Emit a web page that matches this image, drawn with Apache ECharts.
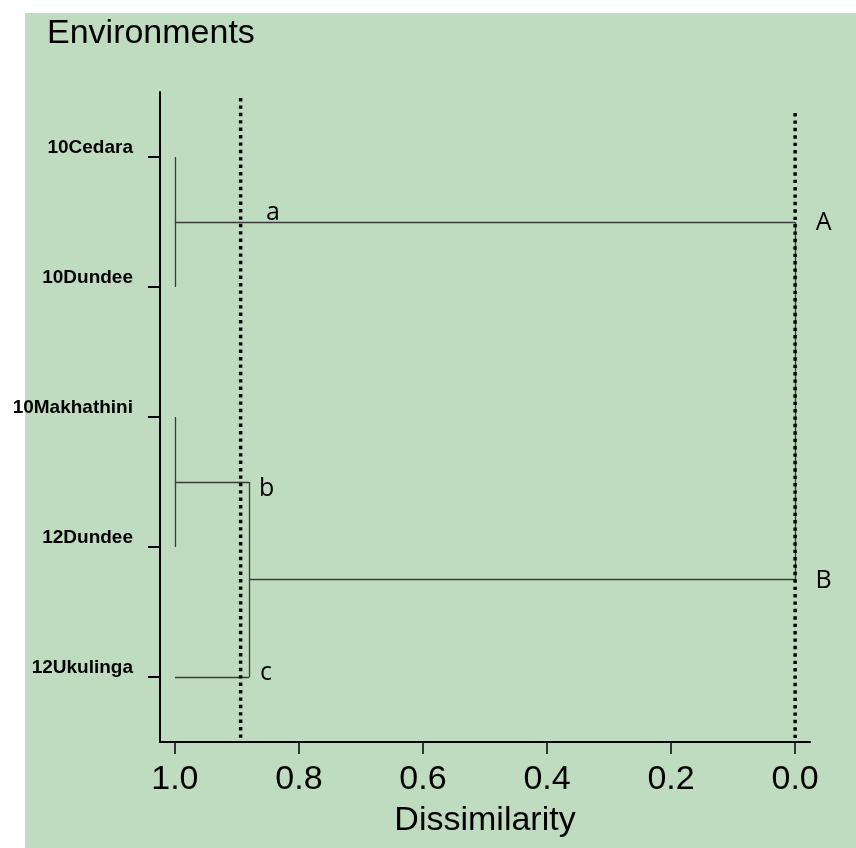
<!DOCTYPE html>
<html>
<head>
<meta charset="utf-8">
<script src="https://cdn.jsdelivr.net/npm/echarts@6.0.0/dist/echarts.min.js"></script>
<style>html,body{margin:0;padding:0;background:#fff;}#c{width:856px;height:848px;}</style>
</head>
<body>
<div id="c"></div>
<script>
// ---- data ----
const leaves = ['10Cedara', '10Dundee', '10Makhathini', '12Dundee', '12Ukulinga'];
const leafHeight = 1.0;
// merges (scipy-like ids: leaves 0..4, merge k gets id 5+k)
const mergeLeft = [0, 2, 6, 5];
const mergeRight = [1, 3, 4, 7];
const mergeHeight = [1.0, 1.0, 0.88, 0.0];
const xTicks = [1.0, 0.8, 0.6, 0.4, 0.2, 0.0];
const cutLevels = [0.894, 0.0];
const cutTop = [-0.454, -0.338];
const groupLabels = ['a', 'b', 'c', 'A', 'B'];
const groupLabelX = [0.842, 0.852, 0.853, -0.046, -0.046];
const groupLabelY = [0.43, 2.55, 3.97, 0.51, 3.26];

// ---- build dendrogram segments ----
const pos = leaves.map((_, i) => i);
const hgt = leaves.map(() => leafHeight);
const segments = [];
mergeHeight.forEach((h, k) => {
  const a = mergeLeft[k], b = mergeRight[k];
  segments.push([[hgt[a], pos[a]], [h, pos[a]]]);
  segments.push([[hgt[b], pos[b]], [h, pos[b]]]);
  segments.push([[h, pos[a]], [h, pos[b]]]);
  pos.push((pos[a] + pos[b]) / 2);
  hgt.push(h);
});

const chart = echarts.init(document.getElementById('c'), null, {renderer: 'canvas'});
const FONT = 'Liberation Sans, Arial, sans-serif';

const cutSeries = cutLevels.map((v, i) => ({
  type: 'line',
  data: [[v, cutTop[i]], [v, 4.5]],
  symbol: 'none',
  silent: true,
  clip: false,
  z: 5,
  lineStyle: {color: '#000', width: 3.5, type: [3.4, 4]}
}));

chart.setOption({
  animation: false,
  backgroundColor: '#fff',
  graphic: [{
    type: 'rect', z: -100, silent: true,
    shape: {x: 25, y: 13, width: 831, height: 835},
    style: {fill: '#c0dcc0'}
  }],
  title: {
    text: 'Environments', left: 47, top: 17, padding: 0,
    textStyle: {fontFamily: FONT, fontSize: 34, fontWeight: 'normal', color: '#000'}
  },
  grid: {left: 160, right: 46, top: 92, bottom: 106, containLabel: false},
  xAxis: {
    type: 'value', inverse: true, min: -0.024, max: 1.024,
    name: 'Dissimilarity', nameLocation: 'middle', nameGap: 62,
    nameTextStyle: {fontFamily: FONT, fontSize: 34, color: '#000'},
    splitLine: {show: false},
    axisLine: {show: true, onZero: false, lineStyle: {color: '#000', width: 2}},
    axisTick: {show: true, length: 12, customValues: xTicks, lineStyle: {color: '#000', width: 1.5}},
    axisLabel: {customValues: xTicks, margin: 21, fontFamily: FONT, fontSize: 34, color: '#000',
      formatter: v => Number(v).toFixed(1)}
  },
  yAxis: {
    type: 'value', inverse: true, min: -0.5, max: 4.5,
    splitLine: {show: false},
    axisLine: {show: true, onZero: false, lineStyle: {color: '#000', width: 2}},
    axisTick: {show: true, length: 12, customValues: leaves.map((_, i) => i), lineStyle: {color: '#000', width: 2}},
    axisLabel: {customValues: leaves.map((_, i) => i), margin: 27, fontFamily: FONT, fontSize: 19,
      fontWeight: 'bold', color: '#000', verticalAlign: 'bottom', lineHeight: 19,
      formatter: v => leaves[Math.round(v)]}
  },
  series: [
    {
      type: 'lines', coordinateSystem: 'cartesian2d', silent: true, z: 3,
      polyline: false, clip: false,
      lineStyle: {color: '#3a3a3a', width: 1.3, opacity: 1, curveness: 0},
      data: segments.map(c => ({coords: c}))
    },
    ...cutSeries,
    {
      type: 'scatter', symbolSize: 0, silent: true, z: 6, clip: false,
      itemStyle: {opacity: 1},
      data: groupLabels.map((t, i) => [groupLabelX[i], groupLabelY[i], t]),
      label: {show: true, position: 'inside', formatter: p => p.value[2],
        fontFamily: 'Open Sans, Lato, sans-serif', fontSize: 25, color: '#000'}
    }
  ]
});
</script>
</body>
</html>
